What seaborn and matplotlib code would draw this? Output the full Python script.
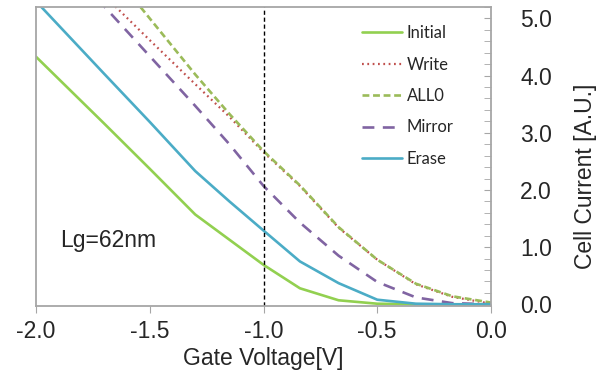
import numpy as np
import pandas as pd
import matplotlib
matplotlib.use("Agg")
import matplotlib.pyplot as plt
import seaborn as sns
from matplotlib.ticker import MultipleLocator, FormatStrFormatter

# values
gate_voltage = [-2.0, -1.7, -1.5, -1.3, -1.15, -1.0, -0.84, -0.67, -0.5, -0.33, -0.17, 0.0]
initial = [4.33, 3.16, 2.37, 1.57, 1.13, 0.69, 0.28, 0.07, 0.01, 0.0, 0.0, 0.0]
write = [6.60, 5.40, 4.62, 3.85, 3.28, 2.66, 2.07, 1.34, 0.78, 0.35, 0.13, 0.01]
all0 = [7.40, 5.98, 5.00, 4.02, 3.33, 2.68, 2.08, 1.35, 0.78, 0.36, 0.14, 0.03]
mirror = [6.50, 5.21, 4.34, 3.47, 2.80, 2.07, 1.43, 0.85, 0.39, 0.12, 0.02, 0.0]
erase = [5.30, 4.03, 3.19, 2.33, 1.80, 1.29, 0.75, 0.37, 0.08, 0.01, 0.0, 0.0]
series_names = ["Initial", "Write", "ALL0", "Mirror", "Erase"]

sns.set_style("white")
plt.rcParams['font.family'] = ['Liberation Sans', 'DejaVu Sans']
plt.rcParams['axes.unicode_minus'] = False

styles = {
    "Initial": dict(color="#92D050", linestyle="-", lw=1.9),
    "Write": dict(color="#C0504D", linestyle=(0, (0.8, 1.6)), lw=1.6),
    "ALL0": dict(color="#9BBB59", linestyle=(0, (2.6, 1.4)), lw=1.9),
    "Mirror": dict(color="#8064A2", linestyle=(0, (4.5, 3.2)), lw=1.9),
    "Erase": dict(color="#4BACC6", linestyle="-", lw=1.9),
}

fig, ax = plt.subplots(figsize=(5.96, 3.76), dpi=100)
fig.subplots_adjust(left=36/596, right=491/596, bottom=1-306/376, top=1-7/376)

for name, vals in zip(series_names, [initial, write, all0, mirror, erase]):
    sns.lineplot(x=gate_voltage, y=vals, ax=ax, label=name, **styles[name])

ax.axvline(-1.0, color="black", lw=1, linestyle=(0, (3, 2)))

ax.set_xlim(-2.0, 0.0)
ax.set_ylim(-0.03, 5.2)

gray = "#A6A6A6"
for s in ax.spines.values():
    s.set_color(gray)
    s.set_linewidth(1.3)

fs = 16.5
ax.xaxis.set_major_locator(MultipleLocator(0.5))
ax.xaxis.set_major_formatter(FormatStrFormatter('%.1f'))
ax.tick_params(axis='x', direction='out', length=5, color=gray, pad=5,
               labelsize=fs, bottom=True)

ax.yaxis.tick_right()
ax.yaxis.set_label_position('right')
ax.yaxis.set_major_locator(MultipleLocator(1.0))
ax.yaxis.set_minor_locator(MultipleLocator(0.2))
ax.yaxis.set_major_formatter(FormatStrFormatter('%.1f'))
ax.tick_params(axis='y', which='both', direction='in', length=5, color=gray,
               pad=21, labelsize=fs, right=True, left=False)

ax.set_xlabel("Gate Voltage[V]", fontsize=fs, labelpad=3)
ax.set_ylabel("Cell Current [A.U.]", fontsize=fs)
ax.yaxis.set_label_coords(1.182, 0.434)

ax.text(-1.895, 1.11, "Lg=62nm", ha='left', va='center', fontsize=fs)

ax.legend(loc='upper left', bbox_to_anchor=(362/596, 1-25/376),
          bbox_transform=fig.transFigure, frameon=False,
          prop={'family': 'Lato', 'size': 12}, handlelength=2.4,
          handletextpad=0.3, labelspacing=0.93, borderpad=0, borderaxespad=0)

plt.savefig("out.png", dpi=100)
